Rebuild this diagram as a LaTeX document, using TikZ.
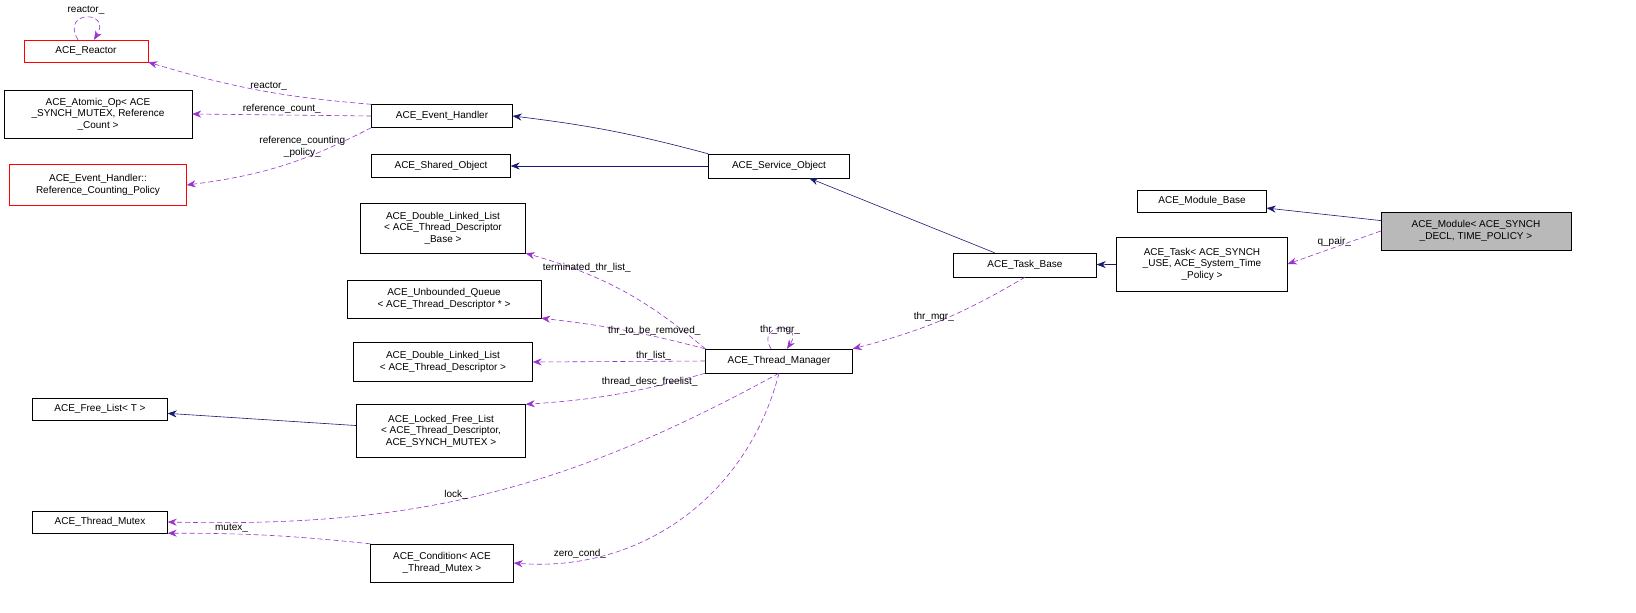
\documentclass[tikz,border=0pt]{standalone}
\usepackage{fontspec}
\setmainfont{Liberation Sans}
\usetikzlibrary{arrows.meta}
\definecolor{navyline}{RGB}{25,25,112}
\definecolor{orchidline}{RGB}{153,50,204}
\begin{document}
\begin{tikzpicture}[x=1pt,y=-1pt,>={Stealth[length=9pt,width=7pt]},
  cls/.style={draw,thin,align=center,inner sep=2pt,font=\fontsize{10}{11.5}\selectfont},
  red cls/.style={cls,draw=red},
  inherit/.style={->,navyline,semithick},
  use/.style={->,orchidline,semithick,dash pattern=on 5pt off 3pt},
  lbl/.style={text=black,font=\fontsize{10}{11.5}\selectfont,inner sep=1pt,align=center}]
% classes
\node[red cls,minimum width=124pt,minimum height=22pt] (reactor) at (86,51) {ACE\_Reactor};
\node[cls,minimum width=188pt,minimum height=48pt] (atomic) at (98,114) {ACE\_Atomic\_Op< ACE\\\_SYNCH\_MUTEX, Reference\\\_Count >};
\node[red cls,minimum width=177pt,minimum height=41pt] (policy) at (98,185) {ACE\_Event\_Handler::\\Reference\_Counting\_Policy};
\node[cls,minimum width=141pt,minimum height=23pt] (handler) at (442,116) {ACE\_Event\_Handler};
\node[cls,minimum width=139pt,minimum height=23pt] (shared) at (441,166) {ACE\_Shared\_Object};
\node[cls,minimum width=141pt,minimum height=24pt] (service) at (779,166) {ACE\_Service\_Object};
\node[cls,minimum width=165pt,minimum height=50pt] (dllbase) at (443,228) {ACE\_Double\_Linked\_List\\< ACE\_Thread\_Descriptor\\\_Base >};
\node[cls,minimum width=194pt,minimum height=38pt] (queue) at (444,299) {ACE\_Unbounded\_Queue\\< ACE\_Thread\_Descriptor * >};
\node[cls,minimum width=179pt,minimum height=39pt] (dll) at (443,362) {ACE\_Double\_Linked\_List\\< ACE\_Thread\_Descriptor >};
\node[cls,minimum width=147pt,minimum height=24pt] (manager) at (779,361) {ACE\_Thread\_Manager};
\node[cls,minimum width=143pt,minimum height=24pt] (taskbase) at (1025,265) {ACE\_Task\_Base};
\node[cls,minimum width=171pt,minimum height=54pt] (task) at (1202,264) {ACE\_Task< ACE\_SYNCH\\\_USE, ACE\_System\_Time\\\_Policy >};
\node[cls,minimum width=129pt,minimum height=22pt] (modbase) at (1202,201) {ACE\_Module\_Base};
\node[cls,fill=gray!55,minimum width=190pt,minimum height=38pt] (module) at (1476,231) {ACE\_Module< ACE\_SYNCH\\\_DECL, TIME\_POLICY >};
\node[cls,minimum width=135pt,minimum height=22pt] (freelist) at (100,409) {ACE\_Free\_List< T >};
\node[cls,minimum width=169pt,minimum height=53pt] (locked) at (441,431) {ACE\_Locked\_Free\_List\\< ACE\_Thread\_Descriptor,\\ ACE\_SYNCH\_MUTEX >};
\node[cls,minimum width=135pt,minimum height=22pt] (mutex) at (100,522) {ACE\_Thread\_Mutex};
\node[cls,minimum width=143pt,minimum height=38pt] (cond) at (442,563) {ACE\_Condition< ACE\\\_Thread\_Mutex >};
% inheritance
\draw[inherit] (service.north west) to[bend right=4] (handler.east);
\draw[inherit] (service) -- (shared);
\draw[inherit] (taskbase) -- (service);
\draw[inherit] (task) -- (taskbase);
\draw[inherit] (module) -- (modbase);
\draw[inherit] (locked) -- (freelist);
% members
\draw[use] ([xshift=-8pt]reactor.north) .. controls (60,10) and (112,10) .. ([xshift=8pt]reactor.north);
\node[lbl] at (86,10) {reactor\_};
\draw[use] (handler.north west) to[bend left=6] node[lbl,above,pos=0.45] {reactor\_} (reactor.south east);
\draw[use] (handler.west) -- node[lbl,above,pos=0.5] {reference\_count\_} (atomic.east);
\draw[use] (handler.south west) to[bend left=10] node[lbl,above,pos=0.38] {reference\_counting\\\_policy\_} (policy.east);
\draw[use] (module.west) -- node[lbl,above] {q\_pair\_} (task.east);
\draw[use] (taskbase.south) to[bend left=8] node[lbl,above,pos=0.55] {thr\_mgr\_} (manager.north east);
\draw[use] ([xshift=-8pt]manager.north) .. controls (755,322) and (805,322) .. ([xshift=8pt]manager.north);
\node[lbl] at (780,330) {thr\_mgr\_};
\draw[use] (manager.north west) to[bend right=12] node[lbl,above,pos=0.7] {terminated\_thr\_list\_} (dllbase.south east);
\draw[use] (manager.north west) to[bend right=4] node[lbl,above,pos=0.3] {thr\_to\_be\_removed\_} (queue.south east);
\draw[use] (manager.west) -- node[lbl,above,pos=0.3] {thr\_list\_} (dll.east);
\draw[use] (manager.south west) to[bend left=6] node[lbl,above,pos=0.3] {thread\_desc\_freelist\_} (locked.north east);
\draw[use] (manager.south) to[bend left=15] node[lbl,above,pos=0.55] {lock\_} (mutex.east);
\draw[use] (manager.south) to[bend left=40] node[lbl,above,pos=0.82] {zero\_cond\_} (cond.east);
\draw[use] (cond.north west) to[bend right=3] node[lbl,above,pos=0.7] {mutex\_} (mutex.south east);
\pgfresetboundingbox
\path[use as bounding box] (0,0) rectangle (1636,613);
\end{tikzpicture}
\end{document}
